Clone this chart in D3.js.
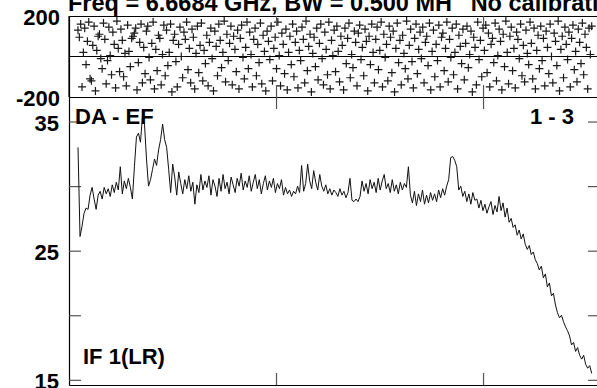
<!DOCTYPE html>
<html><head><meta charset="utf-8">
<script src="https://cdn.jsdelivr.net/npm/d3@7"></script>
<style>
body{margin:0;background:#fff}
svg{display:block}
text{font-family:"Liberation Sans",Arial,Helvetica,sans-serif;font-weight:bold;fill:#000;white-space:pre}
</style>
</head><body>
<svg id="chart" width="597" height="388"></svg>
<script>
// amplitude (lower panel), one value per plotted channel
const amplitude = [
33.0,26.1,26.9,27.9,28.3,28.2,29.3,29.9,29.0,28.2,29.3,29.6,29.0,29.9,29.4,29.8,
29.2,30.1,29.5,30.3,29.7,31.5,29.4,30.4,29.8,30.6,29.9,29.0,31.5,33.8,34.1,33.4,
35.4,34.8,32.1,30.0,30.5,31.3,32.1,31.6,32.8,33.6,34.8,33.6,33.0,31.3,29.5,31.7,
30.7,29.3,31.1,30.2,29.4,30.5,29.8,30.8,29.6,30.3,28.6,30.1,29.5,30.9,29.7,30.4,
29.9,30.8,29.3,30.5,30.0,29.2,30.6,29.6,30.9,29.8,30.3,29.4,30.7,30.1,29.5,30.6,
30.0,31.0,29.7,30.4,29.9,30.8,29.6,30.3,30.9,29.8,30.5,29.4,30.2,30.8,29.7,30.4,
29.9,30.6,29.5,30.2,29.8,30.5,29.3,29.9,29.4,29.7,29.2,29.6,29.4,30.0,29.5,31.6,
29.6,30.2,31.7,30.4,29.8,31.2,30.3,29.7,30.9,30.0,29.6,30.1,29.4,29.8,29.3,29.7,
29.5,29.2,29.8,29.3,29.6,29.1,29.5,30.6,28.9,28.8,29.0,28.8,29.2,30.4,29.6,30.2,
29.4,30.5,29.8,30.3,29.5,30.6,29.7,30.4,30.9,29.8,30.2,29.5,30.5,29.6,30.1,29.4,
30.3,29.7,30.2,29.9,31.5,29.3,28.7,29.6,28.5,29.4,28.8,29.7,28.6,29.3,28.7,29.5,
28.9,29.4,28.8,29.7,29.1,29.8,29.3,30.0,30.5,32.2,32.3,32.0,31.5,29.7,30.0,29.2,
29.6,28.8,29.4,28.6,29.5,28.9,29.0,28.3,28.9,28.1,28.6,27.9,28.4,28.8,27.8,28.5,
28.0,29.2,28.1,28.7,27.6,28.3,27.2,27.5,26.8,27.0,26.2,26.6,25.9,26.3,25.5,25.1,
25.4,24.7,24.9,24.3,24.0,23.5,23.8,22.9,23.2,22.2,22.5,21.5,21.7,20.8,20.2,19.8,
20.0,19.5,19.1,18.8,18.4,17.7,17.9,17.2,17.5,16.9,16.6,16.9,16.2,15.9,16.1,15.5
];
// phase (upper panel), degrees
const phase = [
130,95,160,-150,20,140,-40,75,170,-110,-120,55,150,-170,30,100,
110,-10,-60,165,85,-135,-20,145,5,-90,120,60,-155,175,40,-75,
135,80,-100,15,-145,155,25,-50,90,100,115,140,-165,-30,70,160,
-130,45,-85,125,150,-5,-115,65,170,-160,35,-70,105,90,-140,10,
155,-95,130,-45,20,160,-175,80,110,-25,-150,60,145,0,-105,120,
85,170,-65,40,-130,135,95,-160,15,150,-80,55,165,-120,30,-35,
105,-145,70,140,-10,-170,125,50,-95,160,80,-55,20,175,-125,110,
-20,65,150,-140,100,35,-75,130,-160,90,155,-5,-110,45,170,-60,
120,10,-150,85,140,-95,60,-30,165,-135,105,25,-170,125,75,-15,
150,-120,40,95,-60,170,5,-145,115,60,-85,135,-165,20,100,-40,
160,-100,70,125,-155,30,-20,145,85,-130,175,-70,50,110,-175,15,
95,-50,140,-115,65,160,-10,-140,120,35,-90,170,-160,80,5,130,
-75,150,25,-125,100,55,-165,140,-35,90,165,-105,10,-55,125,70,
-145,115,155,-15,45,-95,135,75,-170,100,-40,160,20,-130,85,145,
-65,30,170,-150,110,-5,60,-120,150,95,-80,125,-175,40,165,-30,
80,-140,105,15,-60,175,-110,55,135,-25,-155,90,160,-85,35,120,
-10,145,-130,70,100,-45,165,-165,25,130,-100,60,-20,155,-150,95,
115,-70,40,170,-125,85,-5,140,-90,20,160,-160,105,50,-35,135,
-115,65,150,-55,10,125,-175,95,45,-140,170,-15,80,-100,140,30,
155,-80,115,-150,60,90,-30,165,-120,5,135,75,-165,110,-50,175,
20,-135,100,145,-70,40,-155,120,85,-10,160,-95,55,-125,130,15,
-40,170,65,-110,140,-160,30,105,-60,150,-20,90,-145,125,45,-85,
160,0,-130,115,75,-45,175,-170,35,100,-105,145,60,-15,120,-150,
90,155,-65,25,-125,135,70,-35,165,-90,110,45,-160,140,10,150
];
const ampTicks = [15, 20, 25, 30, 35];
const ampTickLabels = ["15", "", "25", "", "35"];
const phaseTicks = [200, -200];
const chanTicks = [200, 400];
const firstChan = 8.7, lastChan = 505;
const titleText = "Freq = 6.6684 GHz, BW = 0.500 MH'  No calibration";
const baselineLabel = "DA - EF";
const rangeLabel = "1 - 3";
const ifLabel = "IF 1(LR)";

const svg = d3.select("#chart");
const L = 69, R = 600, PT = 16, PB = 97, AB = 385;
const FS = 22;

const x = d3.scaleLinear().domain([0, 513]).range([L, R]);
const yA = d3.scaleLinear().domain([14.6, 36.9]).range([AB, PB]);
const yP = d3.scaleLinear().domain([-200, 200]).range([PB, PT]);
const chan = d3.scaleLinear().domain([0, amplitude.length - 1]).range([firstChan, lastChan]);
const pchan = d3.scaleLinear().domain([0, phase.length - 1]).range([firstChan, lastChan]);

function styleAxis(g) {
  g.selectAll(".tick line").attr("stroke", "#555").attr("stroke-width", 1.2);
  g.select(".domain").attr("stroke", "#000").attr("stroke-width", 1.2);
  g.selectAll("text").attr("font-size", FS).attr("font-family", '"Liberation Sans",Arial,sans-serif')
    .attr("font-weight", "bold").attr("fill", "#000").attr("dy", "0.40em");
}

// ---- upper (phase) panel ----
svg.append("line").attr("x1", L).attr("x2", R).attr("y1", yP(0)).attr("y2", yP(0))
  .attr("stroke", "#000").attr("stroke-width", 1.2);

const pg = svg.append("g");
phase.forEach((p, i) => {
  const cx = x(pchan(i)), cy = yP(p);
  pg.append("path").attr("d", `M${cx-4},${cy}H${cx+4}M${cx},${cy-4}V${cy+4}`)
    .attr("stroke", "#1a1a1a").attr("stroke-width", 1.2).attr("fill", "none");
});

const gPL = svg.append("g").attr("transform", `translate(${L},0)`)
  .call(d3.axisLeft(yP).tickValues(phaseTicks).tickSize(0).tickPadding(9).tickFormat(d => String(d)));
styleAxis(gPL);
const gPT = svg.append("g").attr("transform", `translate(0,${PT})`)
  .call(d3.axisTop(x).tickValues(chanTicks).tickSize(-10).tickSizeOuter(0).tickFormat(""));
styleAxis(gPT);
const gPB = svg.append("g").attr("transform", `translate(0,${PB})`)
  .call(d3.axisBottom(x).tickValues(chanTicks).tickSize(-12).tickSizeOuter(0).tickFormat(""));
styleAxis(gPB);

// ---- lower (amplitude) panel ----
const gAL = svg.append("g").attr("transform", `translate(${L},0)`)
  .call(d3.axisLeft(yA).tickValues(ampTicks).tickSize(-12).tickSizeOuter(0).tickPadding(10)
    .tickFormat((d, i) => ampTickLabels[i]));
styleAxis(gAL);
const gAR = svg.append("g").attr("transform", `translate(${R},0)`)
  .call(d3.axisRight(yA).tickValues(ampTicks).tickSize(-12).tickSizeOuter(0).tickFormat(""));
styleAxis(gAR);
const gAB = svg.append("g").attr("transform", `translate(0,${AB})`)
  .call(d3.axisBottom(x).tickValues(chanTicks).tickSize(-12).tickSizeOuter(0).tickFormat(""));
styleAxis(gAB);
const gAT = svg.append("g").attr("transform", `translate(0,${PB})`)
  .call(d3.axisTop(x).tickValues(chanTicks).tickSize(-12).tickSizeOuter(0).tickFormat(""));
styleAxis(gAT);
svg.append("line").attr("x1", L).attr("x2", L).attr("y1", PT).attr("y2", PB).attr("stroke", "#000").attr("stroke-width", 1.2);

const line = d3.line().x((d, i) => x(chan(i))).y(d => yA(d));
svg.append("path").datum(amplitude).attr("d", line)
  .attr("fill", "none").attr("stroke", "#111").attr("stroke-width", 1);

// ---- texts ----
svg.append("text").attr("x", 68).attr("y", 11).attr("font-size", 23.5).attr("xml:space", "preserve").text(titleText);
svg.append("text").attr("x", 75).attr("y", 124).attr("font-size", FS).text(baselineLabel);
svg.append("text").attr("x", 574).attr("y", 124).attr("font-size", FS).attr("text-anchor", "end").text(rangeLabel);
svg.append("text").attr("x", 83).attr("y", 364).attr("font-size", FS).text(ifLabel);
</script>
</body></html>
